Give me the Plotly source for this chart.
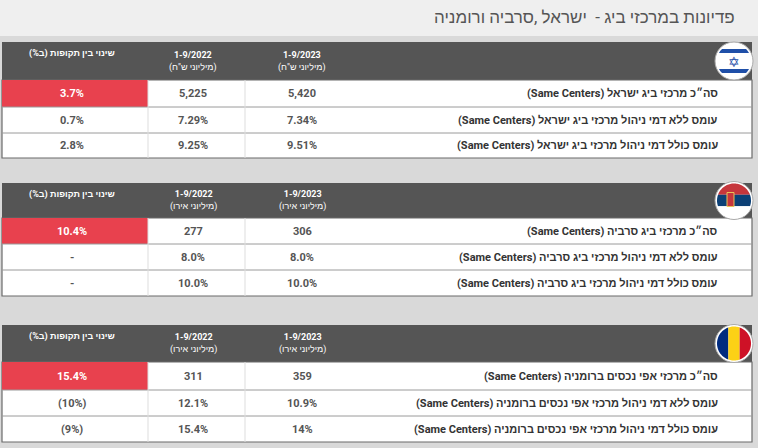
import plotly.graph_objects as go
import numpy as np

title = "פדיונות במרכזי ביג -  ישראל ,סרביה ורומניה"
hdr_change = "שינוי בין תקופות (ב%)"
hdr_units = ["(מיליוני ש\"ח)", "(מיליוני אירו)", "(מיליוני אירו)"]
periods = ["1-9/2023", "1-9/2022"]

labels_il = ["סה״כ מרכזי ביג ישראל (Same Centers)",
             "עומס ללא דמי ניהול מרכזי ביג ישראל (Same Centers)",
             "עומס כולל דמי ניהול מרכזי ביג ישראל (Same Centers)"]
v2023_il = ["5,420", "7.34%", "9.51%"]
v2022_il = ["5,225", "7.29%", "9.25%"]
chg_il = ["3.7%", "0.7%", "2.8%"]

labels_rs = ["סה״כ מרכזי ביג סרביה (Same Centers)",
             "עומס ללא דמי ניהול מרכזי ביג סרביה (Same Centers)",
             "עומס כולל דמי ניהול מרכזי ביג סרביה (Same Centers)"]
v2023_rs = ["306", "8.0%", "10.0%"]
v2022_rs = ["277", "8.0%", "10.0%"]
chg_rs = ["10.4%", "-", "-"]

labels_ro = ["סה״כ מרכזי אפי נכסים ברומניה (Same Centers)",
             "עומס ללא דמי ניהול מרכזי אפי נכסים ברומניה (Same Centers)",
             "עומס כולל דמי ניהול מרכזי אפי נכסים ברומניה (Same Centers)"]
v2023_ro = ["359", "10.9%", "14%"]
v2022_ro = ["311", "12.1%", "15.4%"]
chg_ro = ["15.4%", "(10%)", "(9%)"]

blocks = [
    dict(lab=labels_il, a=v2023_il, b=v2022_il, c=chg_il, unit=hdr_units[0], top=42, hb=80, rows=[80, 107, 133, 158], flag="il"),
    dict(lab=labels_rs, a=v2023_rs, b=v2022_rs, c=chg_rs, unit=hdr_units[1], top=183, hb=218, rows=[218, 244, 270, 296], flag="rs"),
    dict(lab=labels_ro, a=v2023_ro, b=v2022_ro, c=chg_ro, unit=hdr_units[2], top=325, hb=362, rows=[362, 390, 416, 442], flag="ro"),
]

RLE, PDF = "\u202b", "\u202c"
FONT = "Roboto, sans-serif"
shapes, ann = [], []
shapes.append(dict(type="rect", x0=0, x1=758, y0=0, y1=448, fillcolor="#d9d9d9", line_width=0, layer="below"))
shapes.append(dict(type="rect", x0=0, x1=758, y0=0, y1=36, fillcolor="#efefef", line_width=0, layer="below"))
ann.append(dict(x=737, y=17, text=RLE+title+PDF, showarrow=False, xanchor="right", yanchor="middle",
                font=dict(family=FONT, size=17, color="#555555")))

def band(cx, cy, r, lo, hi, axis):
    t = np.linspace(0, 2*np.pi, 120)
    xs, ys = cx + r*np.cos(t), cy + r*np.sin(t)
    if axis == "y":
        ys = np.clip(ys, lo, hi)
    else:
        xs = np.clip(xs, lo, hi)
    return "M" + " L".join(f"{x:.2f},{y:.2f}" for x, y in zip(xs, ys)) + " Z"

for bl in blocks:
    top, hb, rows = bl["top"], bl["hb"], bl["rows"]
    shapes.append(dict(type="rect", x0=2, x1=752, y0=top, y1=hb, fillcolor="#555555", line_width=0))
    shapes.append(dict(type="rect", x0=2, x1=752, y0=hb, y1=rows[-1], fillcolor="white", line=dict(color="#6b6b6b", width=1.2)))
    shapes.append(dict(type="rect", x0=2, x1=148, y0=rows[0], y1=rows[1], fillcolor="#e8414e", line_width=0))
    for y in rows[1:-1]:
        shapes.append(dict(type="line", x0=2, x1=752, y0=y, y1=y, line=dict(color="#9a9a9a", width=1)))
    for x in [148, 245]:
        shapes.append(dict(type="line", x0=x, x1=x, y0=rows[0], y1=rows[-1], line=dict(color="#dddddd", width=1)))
    hy = (top + hb) / 2
    ann.append(dict(x=72, y=top+11, text="<b>"+RLE+hdr_change+PDF+"</b>", showarrow=False, font=dict(family=FONT, size=9, color="white")))
    for x, p in zip([302, 193], periods):
        ann.append(dict(x=x, y=hy, text="<b>"+p+"</b><br>"+RLE+bl["unit"]+PDF, showarrow=False,
                        font=dict(family=FONT, size=9, color="white")))
    for i in range(3):
        cy = (rows[i] + rows[i+1]) / 2
        ann.append(dict(x=720, y=cy, text="<b>"+RLE+bl["lab"][i]+PDF+"</b>", showarrow=False, xanchor="right",
                        font=dict(family=FONT, size=11, color="#333333")))
        ann.append(dict(x=302, y=cy, text="<b>"+bl["a"][i]+"</b>", showarrow=False, font=dict(family=FONT, size=11, color="#555555")))
        ann.append(dict(x=193, y=cy, text="<b>"+bl["b"][i]+"</b>", showarrow=False, font=dict(family=FONT, size=11, color="#555555")))
        ann.append(dict(x=72, y=cy, text="<b>"+bl["c"][i]+"</b>", showarrow=False,
                        font=dict(family=FONT, size=11, color="white" if i == 0 else "#555555")))
    cx, cy, r = 734, hy, 17
    shapes.append(dict(type="circle", x0=cx-r-2, x1=cx+r+2, y0=cy-r-2, y1=cy+r+2, fillcolor="white", line=dict(color="#aaaaaa", width=1)))
    if bl["flag"] == "il":
        shapes.append(dict(type="path", path=band(cx, cy, r, cy-12, cy-8, "y"), fillcolor="#1f4fa8", line_width=0))
        shapes.append(dict(type="path", path=band(cx, cy, r, cy+8, cy+12, "y"), fillcolor="#1f4fa8", line_width=0))
        ann.append(dict(x=cx, y=cy, text="✡", showarrow=False, font=dict(size=14, color="#1f4fa8")))
    elif bl["flag"] == "rs":
        for lo, hi, c in [(cy-r, cy-r/3, "#c6363c"), (cy-r/3, cy+r/3, "#0c4076"), (cy+r/3, cy+r, "#ffffff")]:
            shapes.append(dict(type="path", path=band(cx, cy, r, lo, hi, "y"), fillcolor=c, line_width=0))
        shapes.append(dict(type="rect", x0=cx-7, x1=cx, y0=cy-8, y1=cy+6, fillcolor="#c6363c", line=dict(color="#e8c45a", width=1)))
    else:
        for lo, hi, c in [(cx-r, cx-r/3, "#002b7f"), (cx-r/3, cx+r/3, "#fcd116"), (cx+r/3, cx+r, "#ce1126")]:
            shapes.append(dict(type="path", path=band(cx, cy, r, lo, hi, "x"), fillcolor=c, line_width=0))

fig = go.Figure()
fig.update_layout(autosize=True, margin=dict(l=0, r=0, t=0, b=0),
                  xaxis=dict(range=[0, 758], visible=False, fixedrange=True),
                  yaxis=dict(range=[448, 0], visible=False, fixedrange=True),
                  plot_bgcolor="#d9d9d9", paper_bgcolor="#d9d9d9",
                  shapes=shapes, annotations=ann, showlegend=False)
html = fig.to_html(config=dict(displayModeBar=False, responsive=True), default_width="100vw", default_height="100vh")
html = html.replace("<head>", "<head><style>html,body{margin:0;padding:0;overflow:hidden}</style>", 1)
with open("out.html", "w", encoding="utf-8") as f:
    f.write(html)
if False:
    fig.write_html("out.html")
